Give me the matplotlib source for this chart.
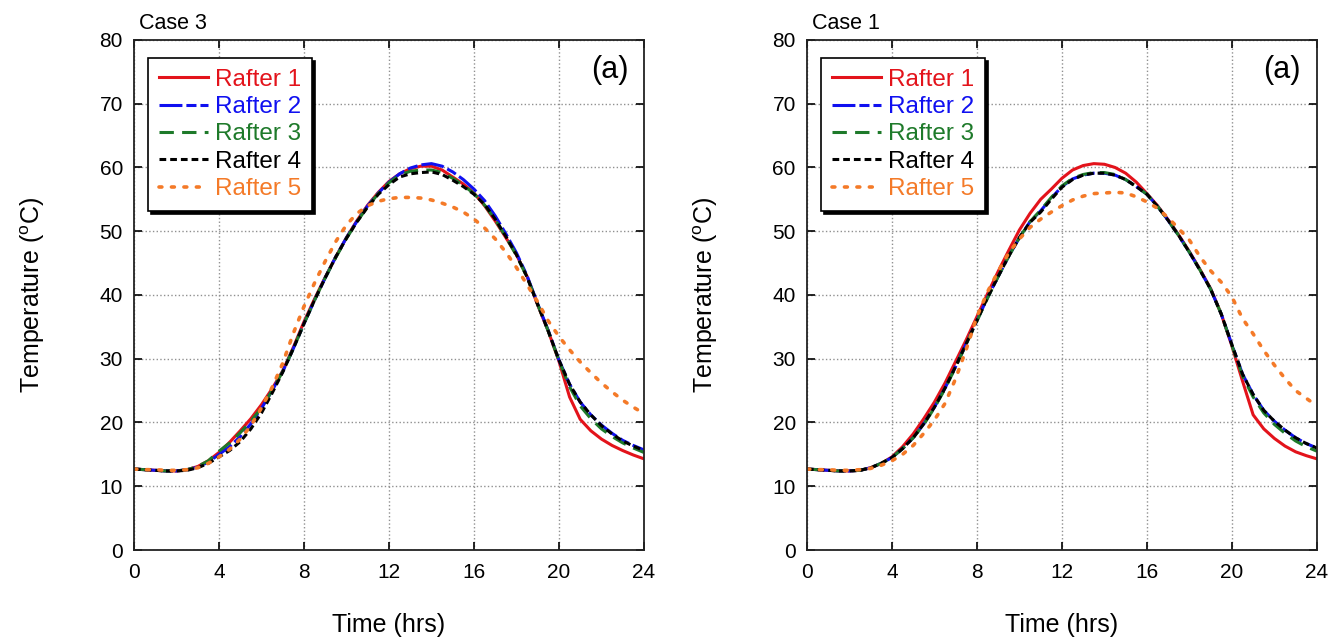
import numpy as np
import matplotlib
matplotlib.use("Agg")
import matplotlib.pyplot as plt

plt.rcParams['font.family'] = ['Liberation Sans', 'DejaVu Sans']
plt.rcParams['mathtext.fontset'] = 'custom'
plt.rcParams['mathtext.rm'] = 'Liberation Sans'

# time axis (hrs), half-hour readings
t = np.arange(0, 24.01, 0.5)

# Case 3 (left panel)
c3_r1 = [12.7, 12.6, 12.5, 12.4, 12.4, 12.6, 13.1, 14.0, 15.3, 16.9, 18.7, 20.6, 22.8, 25.3, 28.1, 31.8,
         35.8, 39.4, 42.8, 46.0, 49.0, 51.7, 54.1, 56.1, 57.8, 59.0, 59.8, 60.2, 60.2, 59.6, 58.5, 57.4,
         56.0, 54.0, 51.6, 49.0, 46.3, 42.9, 38.4, 34.3, 29.6, 24.0, 20.5, 18.7, 17.4, 16.4, 15.6, 14.9, 14.3]
c3_r2 = [12.7, 12.6, 12.5, 12.4, 12.4, 12.6, 13.0, 13.8, 15.0, 16.2, 17.8, 19.8, 22.2, 25.0, 28.0, 31.6,
         35.5, 39.2, 42.7, 46.0, 49.0, 51.6, 54.0, 56.0, 57.7, 59.0, 59.9, 60.4, 60.6, 60.2, 59.3, 58.1,
         56.6, 54.8, 52.4, 49.6, 46.6, 43.0, 38.6, 34.4, 29.8, 26.0, 23.2, 21.2, 19.6, 18.3, 17.2, 16.4, 15.7]
c3_r3 = [12.7, 12.6, 12.5, 12.4, 12.4, 12.6, 13.1, 14.0, 15.5, 16.8, 18.4, 20.2, 22.3, 25.0, 28.0, 31.6,
         35.5, 39.2, 42.7, 45.9, 48.9, 51.5, 53.9, 55.9, 57.6, 58.8, 59.4, 59.6, 59.6, 59.2, 58.3, 57.2,
         55.9, 54.1, 51.8, 49.1, 46.2, 42.8, 38.5, 34.3, 29.7, 25.6, 22.6, 20.6, 19.0, 17.8, 16.8, 16.0, 15.3]
c3_r4 = [12.7, 12.6, 12.5, 12.4, 12.4, 12.5, 12.9, 13.6, 14.6, 15.6, 17.0, 19.0, 21.5, 24.6, 27.9, 31.6,
         35.5, 39.2, 42.7, 46.0, 48.9, 51.5, 53.8, 55.8, 57.3, 58.5, 59.0, 59.2, 59.3, 58.9, 58.0, 57.0,
         55.8, 54.2, 51.9, 49.2, 46.3, 42.8, 38.5, 34.3, 29.8, 26.0, 23.2, 21.2, 19.5, 18.2, 17.1, 16.3, 15.6]
c3_r5 = [12.7, 12.6, 12.6, 12.5, 12.5, 12.6, 12.9, 13.6, 14.6, 15.8, 17.4, 19.5, 22.3, 25.5, 29.3, 34.0,
         38.2, 41.9, 45.3, 48.4, 51.0, 52.8, 54.0, 54.7, 55.1, 55.3, 55.3, 55.2, 54.9, 54.4, 53.8, 53.0,
         51.9, 50.5, 48.8, 46.7, 44.3, 41.6, 38.9, 35.9, 33.5, 31.4, 29.5, 27.8, 26.2, 24.8, 23.5, 22.4, 21.4]

# Case 1 (right panel)
c1_r1 = [12.7, 12.6, 12.5, 12.4, 12.4, 12.5, 12.9, 13.6, 14.6, 16.2, 18.2, 20.6, 23.2, 26.2, 29.6, 33.0,
         36.6, 40.2, 43.7, 47.0, 50.2, 52.8, 55.0, 56.6, 58.3, 59.6, 60.3, 60.6, 60.5, 60.0, 59.1, 57.7,
         55.9, 54.0, 51.8, 49.4, 46.8, 44.0, 41.0, 37.0, 32.0, 26.5, 21.2, 19.0, 17.5, 16.3, 15.4, 14.8, 14.3]
c1_r2 = [12.7, 12.6, 12.5, 12.4, 12.4, 12.5, 12.9, 13.6, 14.5, 15.9, 17.6, 19.8, 22.4, 25.4, 28.8, 32.4,
         36.0, 39.6, 42.9, 46.1, 49.0, 51.5, 53.2, 55.2, 57.0, 58.2, 58.8, 59.1, 59.1, 58.8, 58.1, 57.0,
         55.8, 53.9, 51.7, 49.3, 46.7, 43.9, 40.9, 37.0, 32.2, 27.6, 24.4, 21.9, 20.2, 18.8, 17.6, 16.7, 16.0]
c1_r3 = [12.7, 12.6, 12.5, 12.4, 12.4, 12.5, 12.9, 13.6, 14.5, 15.9, 17.6, 19.7, 22.3, 25.3, 28.7, 32.3,
         35.9, 39.5, 42.9, 46.1, 49.0, 51.5, 53.3, 55.3, 57.1, 58.3, 58.9, 59.2, 59.2, 58.9, 58.1, 57.0,
         55.8, 53.9, 51.7, 49.3, 46.7, 43.9, 40.9, 37.0, 32.1, 27.3, 24.0, 21.5, 19.7, 18.3, 17.1, 16.2, 15.5]
c1_r4 = [12.7, 12.6, 12.5, 12.4, 12.4, 12.5, 12.9, 13.6, 14.5, 15.9, 17.6, 19.8, 22.4, 25.4, 28.8, 32.4,
         36.0, 39.6, 42.9, 46.1, 49.0, 51.4, 53.0, 55.0, 56.9, 58.1, 58.8, 59.1, 59.1, 58.8, 58.1, 57.0,
         55.8, 53.9, 51.7, 49.3, 46.7, 43.9, 40.9, 37.0, 32.2, 27.6, 24.4, 21.9, 20.2, 18.8, 17.6, 16.7, 16.0]
c1_r5 = [12.7, 12.6, 12.6, 12.5, 12.5, 12.6, 12.8, 13.3, 14.0, 15.0, 16.4, 18.3, 20.4, 23.0, 26.9, 31.5,
         36.6, 40.5, 43.7, 46.6, 48.8, 50.6, 51.9, 53.0, 54.0, 54.9, 55.5, 55.9, 56.0, 56.1, 56.0, 55.4,
         54.6, 53.6, 52.1, 50.4, 48.6, 46.0, 43.8, 42.0, 39.7, 36.3, 33.9, 31.3, 29.0, 26.9, 25.0, 23.8, 22.6]

labels = ["Rafter 1", "Rafter 2", "Rafter 3", "Rafter 4", "Rafter 5"]
colors = ["#e3131b", "#1010f0", "#1e7a2a", "#000000", "#f47a28"]
dashes = [None, (7.5, 1.3, 3.3, 1.3), (4.7, 2.7), (2.2, 1.3), (0.8, 2.65)]
widths = [2.2, 2.2, 2.2, 2.2, 2.6]

panels = [("Case 3", [c3_r1, c3_r2, c3_r3, c3_r4, c3_r5]),
          ("Case 1", [c1_r1, c1_r2, c1_r3, c1_r4, c1_r5])]

fig = plt.figure(figsize=(13.36, 6.4), dpi=100)
lefts = [0.1003, 0.604]

for (case, series), x0 in zip(panels, lefts):
    ax = fig.add_axes([x0, 0.1406, 0.3817, 0.797])
    for y, lab, c, d, w in zip(series, labels, colors, dashes, widths):
        line, = ax.plot(t, y, color=c, lw=w, label=lab)
        if d is not None:
            line.set_dashes(d)
            if lab == "Rafter 5":
                line.set_dash_capstyle('round')

    ax.set_xlim(0, 24)
    ax.set_ylim(0, 80)
    ax.set_xticks(range(0, 25, 4))
    ax.set_yticks(range(0, 81, 10))
    ax.grid(True, color='#909090', ls=':', lw=1.0)
    ax.tick_params(direction='in', top=True, right=True, length=6, width=1.2,
                   labelsize=15)
    ax.tick_params(axis='x', pad=9)
    ax.tick_params(axis='y', pad=8)
    for s in ax.spines.values():
        s.set_linewidth(1.3)
        s.set_color('#222222')

    ax.set_xlabel("Time (hrs)", fontsize=18, labelpad=23)
    ax.set_ylabel("Temperature ($^{\\rm o}$C)", fontsize=18, labelpad=38)
    ax.text(0.01, 1.012, case, transform=ax.transAxes, fontsize=15.5, ha='left', va='bottom')
    ax.text(0.969, 0.941, "(a)", transform=ax.transAxes, fontsize=22, ha='right', va='center')

    leg = ax.legend(loc='upper left', bbox_to_anchor=(0.028, 0.965), borderaxespad=0,
                    fontsize=17.5, labelcolor='linecolor', fancybox=False, framealpha=1,
                    edgecolor='black', handlelength=2.0, handletextpad=0.3,
                    labelspacing=0.22, borderpad=0.45,
                    shadow={'color': 'black', 'alpha': 1})
    leg.get_frame().set_linewidth(1.2)

fig.savefig("out.png", dpi=100)
